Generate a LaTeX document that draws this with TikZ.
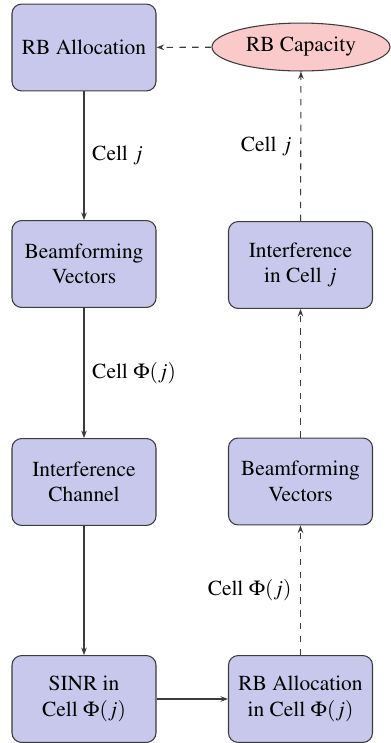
\documentclass[tikz,border=0pt]{standalone}
\usepackage[T1]{fontenc}
\usepackage{mathptmx}
\usetikzlibrary{arrows.meta,shapes.geometric}
\definecolor{boxfill}{RGB}{200,200,236}
\definecolor{ellfill}{RGB}{250,202,202}
\definecolor{edge}{RGB}{60,60,60}
\tikzset{
  blk/.style={draw=edge, fill=boxfill, rounded corners=4.5pt, line width=0.5pt,
    minimum width=67.3pt, minimum height=40.6pt, align=center, inner sep=2pt},
  capnode/.style={draw=edge, fill=ellfill, ellipse, line width=0.5pt,
    minimum width=83.2pt, minimum height=22.4pt, inner sep=0pt},
  flow/.style={draw=edge, line width=0.5pt, -{Stealth[length=3.5pt,width=2.6pt]}},
  fb/.style={flow, dashed},
  lbl/.style={inner sep=0pt}
}
\begin{document}
\begin{tikzpicture}[x=0.4673pt, y=-0.4673pt]
\useasboundingbox (0,0) rectangle (391,743);
% left column
\node[blk] (alloc) at (84,47.5) {RB Allocation};
\node[blk] (bfl) at (84,264) {Beamforming\\Vectors};
\node[blk] (ich) at (84,482) {Interference\\Channel};
\node[blk] (sinr) at (84,699) {SINR in\\Cell $\Phi(j)$};
% right column
\node[blk] (allocphi) at (300.5,699) {RB Allocation\\in Cell $\Phi(j)$};
\node[blk] (bfr) at (300.5,481.5) {Beamforming\\Vectors};
\node[blk] (icj) at (300.5,265) {Interference\\in Cell $j$};
\node[capnode] (rbc) at (301,47) {RB Capacity};
% forward chain
\draw[flow] (alloc) -- node[lbl, right=3.6pt] {Cell $j$} (bfl);
\draw[flow] (bfl) -- node[lbl, right=3.6pt] {Cell $\Phi(j)$} (ich);
\draw[flow] (ich) -- (sinr);
\draw[flow] (sinr) -- (allocphi);
% feedback chain
\draw[fb] (allocphi) -- node[lbl, left=4pt] {Cell $\Phi(j)$} (bfr);
\draw[fb] (bfr) -- (icj);
\draw[fb] (icj) -- node[lbl, left=4pt] {Cell $j$} (rbc);
\draw[fb] (rbc) -- (alloc);
\end{tikzpicture}
\end{document}
